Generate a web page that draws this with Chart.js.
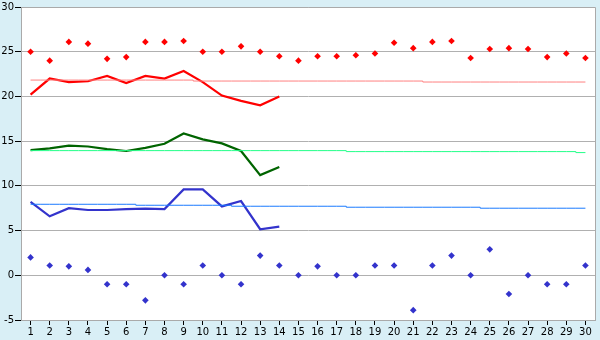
<!DOCTYPE html>
<html>
<head>
<meta charset="utf-8">
<script src="https://cdn.jsdelivr.net/npm/chart.js@4/dist/chart.umd.min.js"></script>
<style>
html,body{margin:0;padding:0;background:#d9eff6;}
#wrap{width:600px;height:340px;position:relative;}
</style>
</head>
<body>
<div id="wrap"><canvas id="c" width="600" height="340"></canvas></div>
<script>
const days = ['1','2','3','4','5','6','7','8','9','10','11','12','13','14','15','16','17','18','19','20','21','22','23','24','25','26','27','28','29','30'];
const highDots = [25.0,24.0,26.1,25.9,24.2,24.4,26.1,26.1,26.2,25.0,25.0,25.6,25.0,24.5,24.0,24.5,24.5,24.6,24.8,26.0,25.4,26.1,26.2,24.3,25.3,25.4,25.3,24.4,24.8,24.3];
const lowDots = [2.0,1.1,1.0,0.6,-1.0,-1.0,-2.8,0,-1.0,1.1,0,-1.0,2.2,1.1,0,1.0,0,0,1.1,1.1,-3.9,1.1,2.2,0,2.9,-2.1,0,-1.0,-1.0,1.1];
const highLine = [20.2,22.0,21.6,21.7,22.3,21.5,22.3,22.0,22.85,21.6,20.1,19.5,19.0,20.0];
const meanLine = [14.0,14.2,14.5,14.4,14.1,13.9,14.25,14.7,15.85,15.2,14.75,13.9,11.2,12.1];
const lowLine = [8.2,6.6,7.5,7.3,7.3,7.4,7.45,7.4,9.6,9.6,7.7,8.3,5.15,5.45];
const highNormal = [21.83,21.83,21.83,21.83,21.83,21.83,21.83,21.83,21.83,21.72,21.72,21.72,21.72,21.72,21.72,21.72,21.72,21.72,21.72,21.72,21.72,21.61,21.61,21.61,21.61,21.61,21.61,21.61,21.61,21.61];
const meanNormal = [13.94,13.94,13.94,13.94,13.94,13.94,13.94,13.94,13.94,13.94,13.94,13.94,13.94,13.94,13.94,13.94,13.94,13.83,13.83,13.83,13.83,13.83,13.83,13.83,13.83,13.83,13.83,13.83,13.83,13.72];
const lowNormal = [7.94,7.94,7.94,7.94,7.94,7.94,7.83,7.83,7.83,7.83,7.83,7.72,7.72,7.72,7.72,7.72,7.72,7.61,7.61,7.61,7.61,7.61,7.61,7.61,7.5,7.5,7.5,7.5,7.5,7.5];
const yMin = -5, yMax = 30, yStep = 5;

const bgPlugin = {
  id: 'bg',
  beforeDraw(chart) {
    const ctx = chart.ctx, a = chart.chartArea;
    ctx.save();
    ctx.fillStyle = '#d9eff6';
    ctx.fillRect(0, 0, chart.width, chart.height);
    ctx.fillStyle = '#ffffff';
    ctx.fillRect(a.left, a.top, a.right - a.left, a.bottom - a.top);
    ctx.restore();
  },
  afterDraw(chart) {
    const ctx = chart.ctx, a = chart.chartArea;
    ctx.save();
    ctx.strokeStyle = '#aaaaaa';
    ctx.lineWidth = 1;
    ctx.beginPath();
    ctx.moveTo(a.left + 0.5, a.top + 0.5);
    ctx.lineTo(a.right + 0.5, a.top + 0.5);
    ctx.lineTo(a.right + 0.5, a.bottom + 0.5);
    ctx.stroke();
    ctx.restore();
  }
};

const lineDs = (data, color, w) => ({data, borderColor: color, backgroundColor: color, borderWidth: w, pointRadius: 0, fill: false, tension: 0});
const normDs = (data, color) => ({data, borderColor: color, backgroundColor: color, borderWidth: 1, pointRadius: 0, fill: false, stepped: 'middle'});
const dotDs = (data, color) => ({data, showLine: false, pointStyle: 'rectRot', pointRadius: 3.3, pointBorderWidth: 0, borderColor: color, backgroundColor: color, pointBackgroundColor: color});

new Chart(document.getElementById('c'), {
  type: 'line',
  data: {
    labels: days,
    datasets: [
      normDs(highNormal, '#ff8080'),
      normDs(meanNormal, '#22ff88'),
      normDs(lowNormal, '#1a7aff'),
      lineDs(highLine, '#ff0000', 2.2),
      lineDs(meanLine, '#006400', 2.2),
      lineDs(lowLine, '#3333cc', 2.2),
      dotDs(highDots, '#ff0000'),
      dotDs(lowDots, '#3333cc')
    ]
  },
  plugins: [bgPlugin],
  options: {
    responsive: false,
    animation: false,
    layout: {padding: {top: 5, right: 5, left: 0, bottom: 0}},
    plugins: {legend: {display: false}, tooltip: {enabled: false}},
    scales: {
      x: {
        type: 'category',
        offset: true,
        grid: {drawOnChartArea: false, drawTicks: true, tickLength: 5, tickColor: '#000000', offset: false},
        border: {color: '#aaaaaa'},
        ticks: {color: '#000', font: {family: 'DejaVu Sans', size: 10}, padding: 1, maxRotation: 0, autoSkip: false},
        afterFit(s) { s.height = 20; }
      },
      y: {
        min: yMin, max: yMax,
        grid: {color: '#b0b0b0', tickColor: '#000000', tickLength: 6},
        border: {color: '#aaaaaa'},
        ticks: {stepSize: yStep, color: '#000', font: {family: 'DejaVu Sans', size: 10}, padding: 1},
        afterFit(s) { s.width = 21; }
      }
    }
  }
});
</script>
</body>
</html>
